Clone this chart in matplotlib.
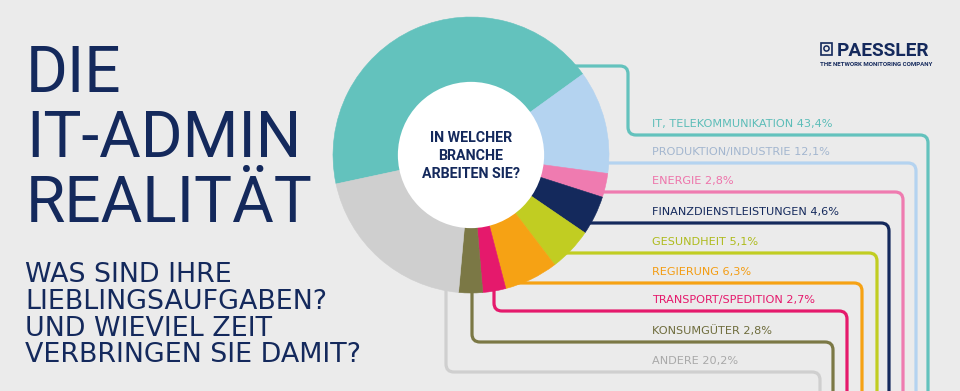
import matplotlib
matplotlib.use("Agg")
import matplotlib.pyplot as plt
import numpy as np
from matplotlib.path import Path
from matplotlib.patches import PathPatch, Circle, Rectangle

# survey: "In welcher Branche arbeiten Sie?"
branchen = ["IT, TELEKOMMUNIKATION", "PRODUKTION/INDUSTRIE", "ENERGIE",
            "FINANZDIENSTLEISTUNGEN", "GESUNDHEIT", "REGIERUNG",
            "TRANSPORT/SPEDITION", "KONSUMGÜTER", "ANDERE"]
anteile = [43.4, 12.1, 2.8, 4.6, 5.1, 6.3, 2.7, 2.8, 20.2]
farben = ["#63c2bd", "#b4d3f0", "#ef7bb0", "#14295c", "#c1cd22",
          "#f6a214", "#e5196c", "#7b7845", "#cfcfcf"]
text_farben = ["#5cbdb8", "#a3b6cf", "#ee74ab", "#14295c", "#aebb1c",
               "#f39c12", "#e5196c", "#6e6c3c", "#a9a9a9"]

NAVY = "#14295c"
BG = "#ebebeb"
W, H = 960, 391

# connector routing (pixel coords, y down): start point, bends, end x
routen = [
    [(560, 66), (628, 66), (628, 135), (928, 135), (928, 420)],
    [(560, 163), (916, 163), (916, 420)],
    [(590, 192), (903, 192), (903, 420)],
    [(575, 223), (889, 223), (889, 420)],
    [(555, 253), (877, 253), (877, 420)],
    [(510, 283), (862, 283), (862, 420)],
    [(494, 270), (494, 311), (847, 311), (847, 420)],
    [(472, 270), (472, 342), (833, 342), (833, 420)],
    [(446, 270), (446, 372), (820, 372), (820, 420)],
]


def rounded(points, r=8):
    pts = [np.array(p, float) for p in points]
    verts, codes = [pts[0]], [Path.MOVETO]
    for i in range(1, len(pts) - 1):
        u_in = pts[i] - pts[i - 1]
        u_in /= np.linalg.norm(u_in)
        u_out = pts[i + 1] - pts[i]
        u_out /= np.linalg.norm(u_out)
        verts += [pts[i] - u_in * r, pts[i], pts[i] + u_out * r]
        codes += [Path.LINETO, Path.CURVE3, Path.CURVE3]
    verts.append(pts[-1])
    codes.append(Path.LINETO)
    return Path(verts, codes)


fig = plt.figure(figsize=(9.6, 3.91), dpi=100, facecolor=BG)
ax = fig.add_axes([0, 0, 1, 1])
ax.set_xlim(0, W)
ax.set_ylim(H, 0)
ax.set_facecolor(BG)
ax.axis("off")

font = "Roboto"
wide = "DejaVu Sans"

# title block
for txt, yb in zip(["DIE", "IT-ADMIN", "REALITÄT"], [92, 157, 222]):
    ax.text(26, yb, txt, fontsize=46, family=font, fontweight="normal",
            color=NAVY, va="baseline", ha="left")
sub = ["WAS SIND IHRE", "LIEBLINGSAUFGABEN?", "UND WIEVIEL ZEIT",
       "VERBRINGEN SIE DAMIT?"]
for txt, yb in zip(sub, [282, 309, 336, 362]):
    ax.text(25, yb, txt, fontsize=19.4, family=wide, fontweight="normal",
            color=NAVY, va="baseline", ha="left")

# connectors + labels
for route, col, tcol, name, val in zip(routen, farben, text_farben,
                                       branchen, anteile):
    ax.add_patch(PathPatch(rounded(route), fill=False, edgecolor=col,
                           linewidth=2.3, capstyle="butt"))
    y_line = route[-2][1]
    label = f"{name} {val:.1f}%".replace(".", ",")
    ax.text(652, y_line - 8, label, fontsize=8.1, family=wide,
            fontweight="normal", color=tcol, va="baseline", ha="left")

# logo
ax.add_patch(Rectangle((821, 43), 11, 12, facecolor="none",
                       edgecolor=NAVY, linewidth=1.2))
ax.add_patch(Circle((826.5, 48.5), 2.6, facecolor="none",
                    edgecolor=NAVY, linewidth=1.1))
ax.text(837, 56, "PAESSLER", fontsize=13.8, family=font, fontweight="bold",
        color=NAVY, va="baseline", ha="left")
ax.text(820, 66, "THE NETWORK MONITORING COMPANY", fontsize=4.4,
        family=font, fontweight="bold", color=NAVY, va="baseline",
        ha="left")

# donut
cx, cy, R = 471, 155, 138
ax2 = fig.add_axes([(cx - R) / W, (H - cy - R) / H, 2 * R / W, 2 * R / H])
wedges, _ = ax2.pie(anteile, colors=farben, startangle=192.1,
                    counterclock=False, radius=1)
for w, c in zip(wedges, farben):
    w.set_edgecolor(c)
    w.set_linewidth(0.4)
ax2.add_patch(Circle((0, 0), 0.53, facecolor="white", edgecolor="none",
                     zorder=2))
ax2.set_xlim(-1, 1)
ax2.set_ylim(-1, 1)
ax2.axis("off")

for txt, yb in zip(["IN WELCHER", "BRANCHE", "ARBEITEN SIE?"],
                   [142, 160, 178]):
    ax2.text(cx, yb, txt, transform=ax.transData, fontsize=10.3,
             family=font, fontweight="bold", color=NAVY, va="baseline",
             ha="center", zorder=5)

fig.savefig("out.png", dpi=100, facecolor=BG)
